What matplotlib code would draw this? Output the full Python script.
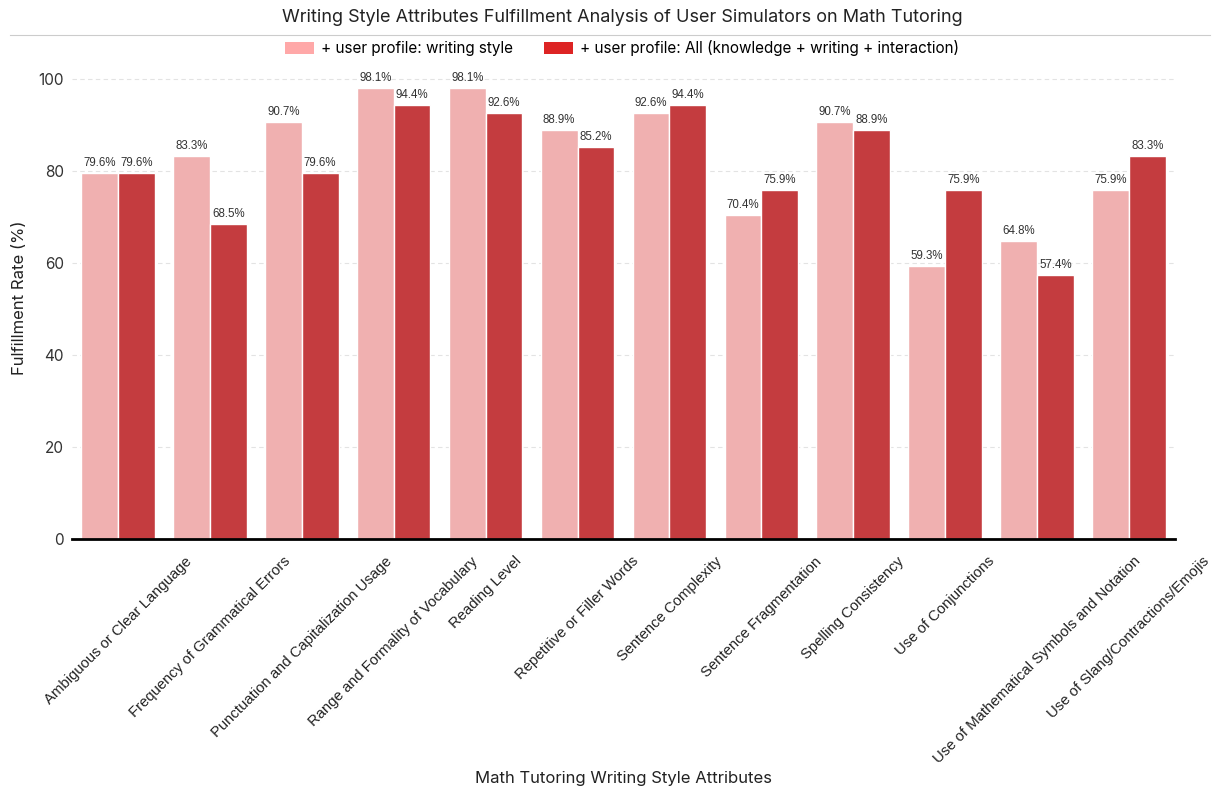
import matplotlib
matplotlib.use("Agg")
import matplotlib.pyplot as plt
import numpy as np
from matplotlib.lines import Line2D
from matplotlib.patches import Patch

categories = [
    "Ambiguous or Clear Language",
    "Frequency of Grammatical Errors",
    "Punctuation and Capitalization Usage",
    "Range and Formality of Vocabulary",
    "Reading Level",
    "Repetitive or Filler Words",
    "Sentence Complexity",
    "Sentence Fragmentation",
    "Spelling Consistency",
    "Use of Conjunctions",
    "Use of Mathematical Symbols and Notation",
    "Use of Slang/Contractions/Emojis",
]
writing_style = [79.6, 83.3, 90.7, 98.1, 98.1, 88.9, 92.6, 70.4, 90.7, 59.3, 64.8, 75.9]
all_profile = [79.6, 68.5, 79.6, 94.4, 92.6, 85.2, 94.4, 75.9, 88.9, 75.9, 57.4, 83.3]
series_names = ["+ user profile: writing style",
                "+ user profile: All (knowledge + writing + interaction)"]

plt.rcParams['font.family'] = ['Inter', 'DejaVu Sans']

fig = plt.figure(figsize=(12.15, 7.89), dpi=100)
ax = fig.add_axes([0.0593, 0.3169, 0.9077, 0.612])

x = np.arange(len(categories))
w = 0.4
bar_cols = ["#f0b0b0", "#c43c3f"]
leg_cols = ["#ffa8a8", "#dd2424"]

for i, (vals, col) in enumerate(zip([writing_style, all_profile], bar_cols)):
    pos = x + (i - 0.5) * w
    bars = ax.bar(pos, vals, width=w, color=col, edgecolor="white", linewidth=1, zorder=3)
    for b, v in zip(bars, vals):
        ax.annotate(f"{v:.1f}%", (b.get_x() + b.get_width() / 2, v),
                    xytext=(0, 3), textcoords="offset points",
                    ha="center", va="bottom", fontsize=8.3, color="#333333",
                    family=['Liberation Sans', 'DejaVu Sans'], zorder=4)

ax.set_xlim(-0.5, len(categories) - 0.5)
ax.set_ylim(0, 105)
ax.set_yticks([0, 20, 40, 60, 80, 100])
ax.yaxis.grid(True, linestyle=(0, (4, 3)), color="#e3e3e3", linewidth=0.8, zorder=0)
ax.set_axisbelow(True)
for s in ax.spines.values():
    s.set_visible(False)
ax.axhline(0, color="black", linewidth=2, zorder=5, clip_on=False)
ax.tick_params(axis='both', length=0)
ax.tick_params(axis='y', labelsize=11, colors="#333333", pad=6)
ax.set_xticks(x)
ax.set_xticklabels(categories, rotation=45, ha="center", fontsize=10.7,
                   family=['Liberation Sans', 'DejaVu Sans'], color="#222222")
ax.tick_params(axis='x', pad=11)
ax.set_ylabel("Fulfillment Rate (%)", fontsize=12, color="#222222", labelpad=8)
ax.set_xlabel("Math Tutoring Writing Style Attributes", fontsize=12, color="#222222")
ax.xaxis.set_label_coords(0.5, (1 - 778 / 789 - 0.3169) / 0.612)
ax.xaxis.label.set_va("center")

fig.text(0.512, 1 - 17 / 789, "Writing Style Attributes Fulfillment Analysis of User Simulators on Math Tutoring",
         ha="center", va="center", fontsize=13, color="#222222")
fig.add_artist(Line2D([10 / 1215, 1210 / 1215], [1 - 35 / 789, 1 - 35 / 789],
                      color="#cccccc", linewidth=0.8, transform=fig.transFigure))

handles = [Patch(facecolor=c, edgecolor="none") for c in leg_cols]
fig.legend(handles, series_names, loc="center", bbox_to_anchor=(0.512, 1 - 48 / 789),
           ncol=2, frameon=False, fontsize=11, handlelength=1.9, handleheight=0.8,
           columnspacing=2.0, handletextpad=0.5)

fig.savefig("out.png", dpi=100)
